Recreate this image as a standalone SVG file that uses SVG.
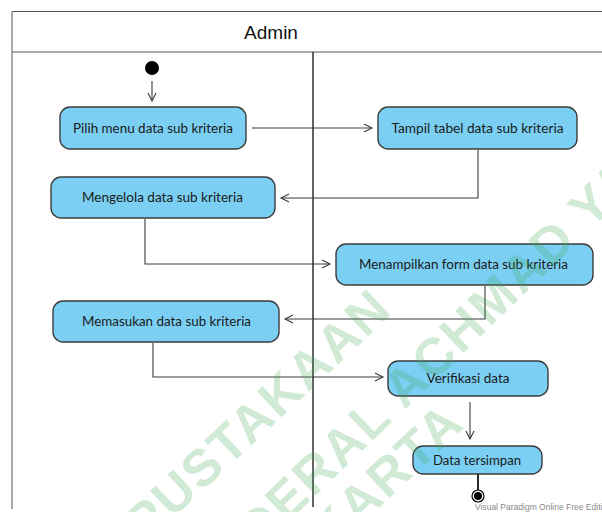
<svg xmlns="http://www.w3.org/2000/svg" width="602" height="512" viewBox="0 0 602 512">
  <style>
    .frame { fill: none; stroke: #555; stroke-width: 1; }
    .divider { stroke: #111; stroke-width: 1.3; }
    .act rect { fill: #7bcff3; stroke: #3c3c3c; stroke-width: 1.4; }
    .act text { font-family: Lato, "Open Sans", sans-serif; font-size: 12.5px; fill: #1a1a1a; text-anchor: middle; }
    .title { font-family: "Liberation Sans", Arial, sans-serif; font-size: 19px; fill: #111; text-anchor: middle; }
    .edge { fill: none; stroke: #3a3a3a; stroke-width: 1.1; marker-end: url(#arrow); }
    .wm { font-family: "Liberation Sans", Arial, sans-serif; font-weight: bold; font-size: 52px; letter-spacing: 2px; fill: #3aa64f; fill-opacity: 0.24; text-anchor: middle; }
    .credit { font-family: "Liberation Sans", Arial, sans-serif; font-size: 8.5px; fill: #8a8a8a; }
  </style>
  <defs>
    <marker id="arrow" markerUnits="userSpaceOnUse" markerWidth="12" markerHeight="12" viewBox="-10 -6 12 12" refX="0" refY="0" orient="auto">
      <path d="M -8 -4 L 0 0 L -8 4" fill="none" stroke="#3a3a3a" stroke-width="1.1"/>
    </marker>
  </defs>

  <rect width="602" height="512" fill="#ffffff"/>

  <!-- swimlane frame -->
  <g id="lane">
    <path class="frame" d="M 12 509 L 12 11.5 L 602 11.5 M 12 52 L 602 52"/>
    <line class="divider" x1="313" y1="52" x2="313" y2="507"/>
    <text class="title" x="271" y="39">Admin</text>
  </g>

  <!-- connectors -->
  <g id="connectors">
    <path class="edge" d="M 152 81 L 152 101"/>
    <path class="edge" d="M 252 128 L 372 128"/>
    <path class="edge" d="M 478 150 L 478 198 L 281 198"/>
    <path class="edge" d="M 145 219 L 145 264 L 330 264"/>
    <path class="edge" d="M 485 286 L 485 319 L 285 319"/>
    <path class="edge" d="M 153 343 L 153 377 L 383 377"/>
    <path class="edge" d="M 470 402 L 470 439"/>
    <path d="M 478 474 L 478 490" stroke="#2a2a2a" stroke-width="2" fill="none"/>
  </g>

  <!-- start node -->
  <g id="start">
    <circle cx="152" cy="68" r="7" fill="#000"/>
  </g>

  <g id="pilih" class="act">
    <rect x="60" y="107" width="186" height="42" rx="10"/>
    <text x="153" y="132.5" textLength="160" lengthAdjust="spacingAndGlyphs">Pilih menu data sub kriteria</text>
  </g>

  <g id="tampil" class="act">
    <rect x="378" y="107" width="199" height="42" rx="10"/>
    <text x="477.5" y="132.5" textLength="172" lengthAdjust="spacingAndGlyphs">Tampil tabel data sub kriteria</text>
  </g>

  <g id="mengelola" class="act">
    <rect x="51" y="177" width="224" height="41" rx="10"/>
    <text x="162.5" y="202" textLength="161" lengthAdjust="spacingAndGlyphs">Mengelola data sub kriteria</text>
  </g>

  <g id="menampilkan" class="act">
    <rect x="336" y="244" width="257" height="41" rx="10"/>
    <text x="463.5" y="269" textLength="209" lengthAdjust="spacingAndGlyphs">Menampilkan form data sub kriteria</text>
  </g>

  <g id="memasukan" class="act">
    <rect x="53" y="301" width="226" height="41" rx="10"/>
    <text x="166.5" y="326" textLength="169" lengthAdjust="spacingAndGlyphs">Memasukan data sub kriteria</text>
  </g>

  <g id="verifikasi" class="act">
    <rect x="388" y="361" width="160" height="35" rx="10"/>
    <text x="468" y="383" textLength="83" lengthAdjust="spacingAndGlyphs">Verifikasi data</text>
  </g>

  <g id="tersimpan" class="act">
    <rect x="413" y="446" width="129" height="28" rx="10"/>
    <text x="477" y="464.5" textLength="88" lengthAdjust="spacingAndGlyphs">Data tersimpan</text>
  </g>

  <!-- end node -->
  <g id="end">
    <circle cx="478" cy="496" r="6" fill="#fff" stroke="#000" stroke-width="1.2"/>
    <circle cx="478" cy="496" r="4" fill="#000"/>
  </g>

  <!-- library watermark -->
  <g id="watermark">
    <text class="wm" transform="translate(270 428) rotate(-43)">PUSTAKAAN</text>
    <text class="wm" transform="translate(450 366) rotate(-44)">DERAL ACHMAD YA</text>
    <text class="wm" transform="translate(398 490) rotate(-43)">KARTA</text>
  </g>

  <text class="credit" x="475" y="510">Visual Paradigm Online Free Editi</text>
</svg>
